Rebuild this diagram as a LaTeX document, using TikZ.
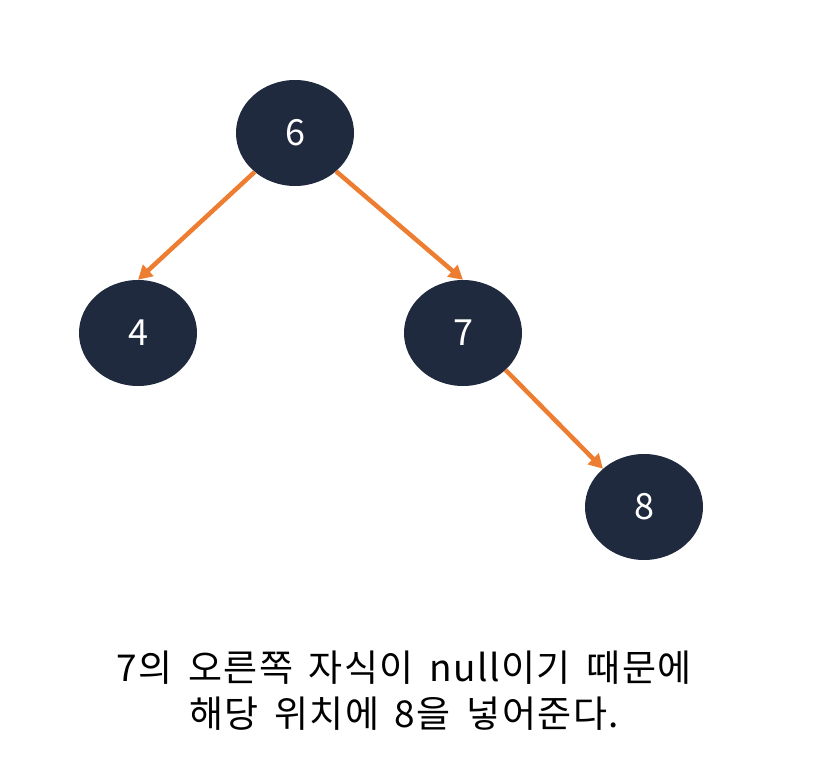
\documentclass[tikz,border=0pt]{standalone}
\usepackage{fontspec}
\setmainfont{Noto Sans CJK KR}
\newfontfamily\capfont[LetterSpace=4,WordSpace=1.6]{Noto Sans CJK KR}
\usetikzlibrary{arrows.meta,shapes.geometric}
\definecolor{nodefill}{HTML}{1F2A3E}
\definecolor{edgeor}{HTML}{ED7D31}
\tikzset{
  tnode/.style={ellipse,fill=nodefill,text=white,minimum width=118pt,minimum height=106pt,inner sep=0pt,font=\fontsize{36}{40}\selectfont},
  tedge/.style={draw=edgeor,line width=4.5pt,-{Triangle[length=14pt,width=15pt]}}
}
\begin{document}
\begin{tikzpicture}[x=1pt,y=-1pt]
\useasboundingbox (0,0) rectangle (832,783);
\node[tnode] (n6) at (295,133) {6};
\node[tnode] (n4) at (138,333) {4};
\node[tnode] (n7) at (463,333) {7};
\node[tnode] (n8) at (644,507) {8};
\draw[tedge] (n6.224) -- (n4.north);
\draw[tedge] (n6.317) -- (n7.north);
\draw[tedge] (n7.319) -- (n8.137);
\node[align=center,font=\capfont\fontsize{37}{46}\selectfont,inner sep=0pt] (cap) at (404,691) {7의 오른쪽 자식이 null이기 때문에\\해당 위치에 8을 넣어준다.};
\end{tikzpicture}
\end{document}
